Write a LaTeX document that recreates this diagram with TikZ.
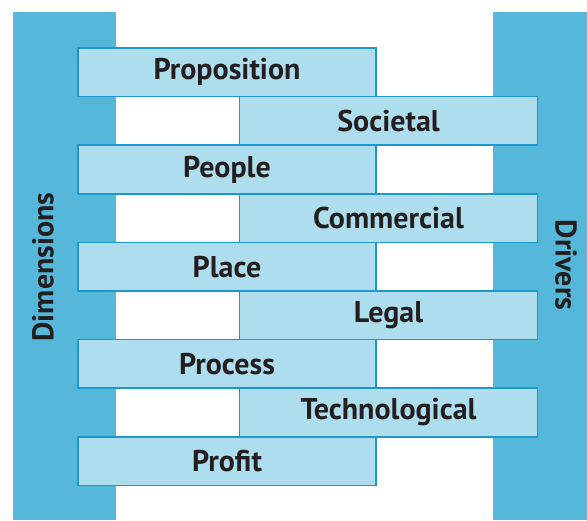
\documentclass[tikz,border=0pt]{standalone}
\usepackage{fontspec}
\setmainfont{PT Sans}
\definecolor{barblue}{HTML}{55B8DA}
\definecolor{boxfill}{HTML}{AEDDED}
\definecolor{boxline}{HTML}{1C98CF}
\definecolor{txt}{HTML}{231F20}
\tikzset{
  bar/.style={fill=barblue, draw=none},
  rowbox/.style={rectangle, draw=boxline, fill=boxfill, line width=1.5pt,
    minimum width=298pt, minimum height=48.6pt, inner sep=0pt, outer sep=0pt,
    font=\bfseries\fontsize{30}{32}\selectfont, text=txt},
  sidelabel/.style={font=\bfseries\fontsize{30}{32}\selectfont, text=txt, inner sep=0pt}
}
\begin{document}
\begin{tikzpicture}[x=1pt,y=1pt]
  \useasboundingbox (0,0) rectangle (587,520);
  \fill[white] (0,0) rectangle (587,520);
  \path[bar] (13,0) rectangle (116,508);
  \path[bar] (493,0) rectangle (587,508);
  \node[sidelabel, rotate=90] (dim) at (43,253) {Dimensions};
  \node[sidelabel, rotate=-90] (drv) at (566,255) {Drivers};
  \foreach \i/\t/\side in {0/Proposition/L,1/Societal/R,2/People/L,3/Commercial/R,4/Place/L,5/Legal/R,6/Process/L,7/Technological/R,8/Profit/L}{
    \pgfmathsetmacro{\yy}{520-48-48.6*(\i+0.5)}
    \if L\side
      \node[rowbox] (row\i) at (227,\yy) {\t};
    \else
      \node[rowbox] (row\i) at (388.5,\yy) {\t};
    \fi
  }
\end{tikzpicture}
\end{document}
